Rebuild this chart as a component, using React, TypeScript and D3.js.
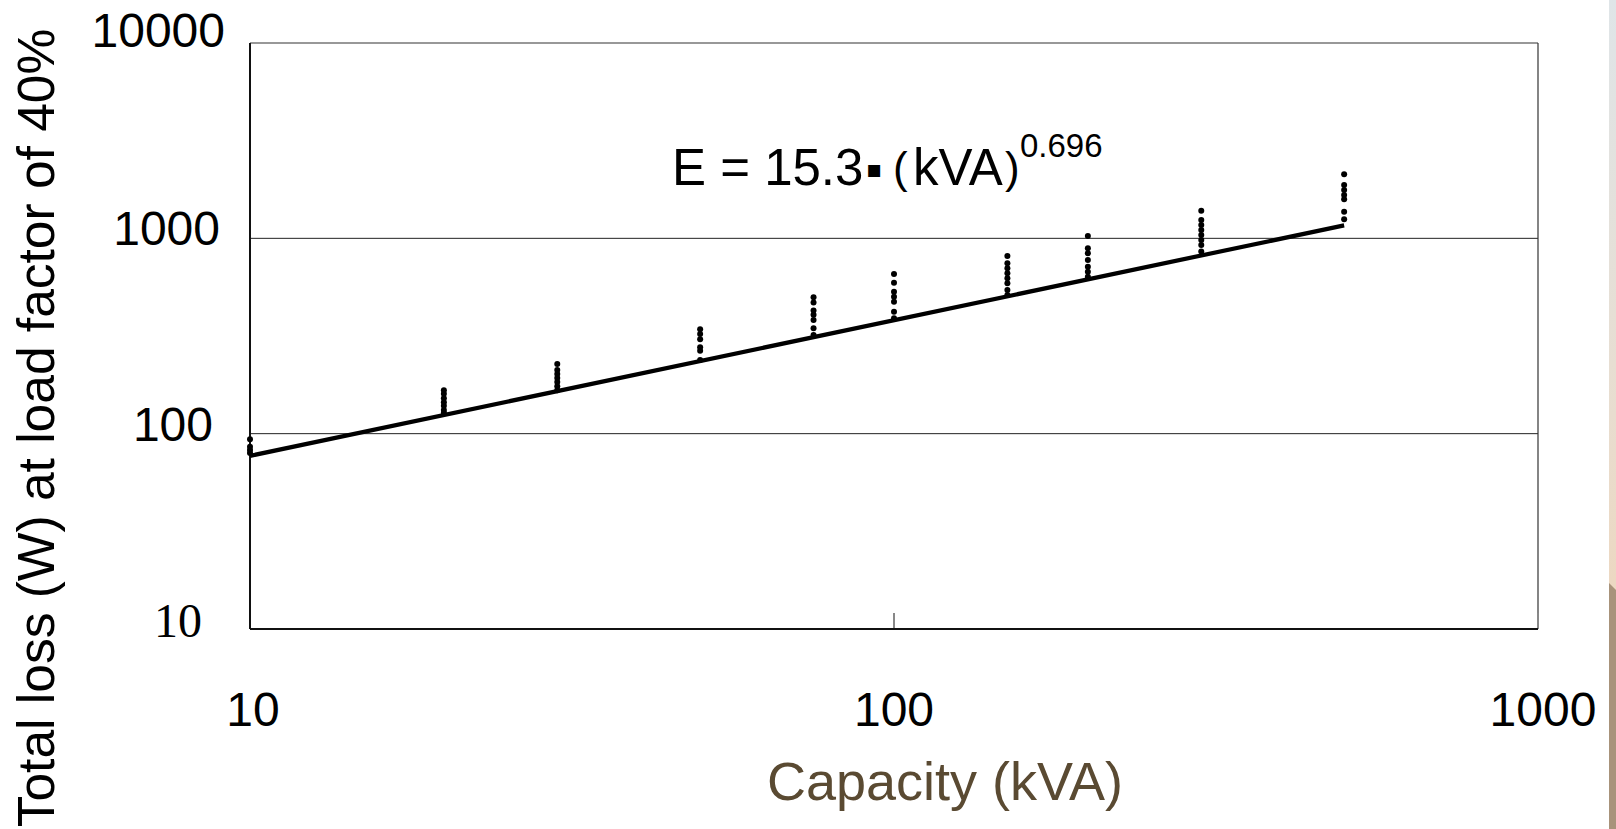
import React from 'react';
import * as d3 from 'd3';

// Capacity classes (kVA) and the measured losses (W) at each one
const capacities = [10, 20, 30, 50, 75, 100, 150, 200, 300, 500];
const measuredLoss = [
  [93.5, 85.7, 82.5, 79.6],
  [167, 160, 152, 145, 139, 132, 128],
  [227, 212, 202, 193, 184, 175, 167],
  [342, 324, 304, 277, 266, 238],
  [499, 469, 427, 406, 382, 346, 320],
  [656, 593, 533, 503, 474, 421, 390],
  [813, 745, 703, 663, 624, 589, 544, 513],
  [1028, 889, 838, 774, 716, 675, 636],
  [1385, 1242, 1171, 1103, 1040, 980, 924, 855],
  [2128, 1876, 1768, 1667, 1585, 1368, 1252],
];

// Regression line as drawn (end points)
const fitKva = [10, 500];
const fitLoss = [77, 1165];

const xTicks = [10, 100, 1000];
const yTicks = [10, 100, 1000, 10000];

const W = 1616;
const H = 829;
const plot = { left: 250, right: 1538, top: 43, bottom: 629 };

const sans = '"Liberation Sans", Arial, sans-serif';
const serif = '"Liberation Serif", "Times New Roman", serif';

const App = () => {
  const x = d3.scaleLog().domain([10, 1000]).range([plot.left, plot.right]);
  const y = d3.scaleLog().domain([10, 10000]).range([plot.bottom, plot.top]);

  const line = d3
    .line<number>()
    .x((_, i) => x(fitKva[i]))
    .y((d) => y(d));

  const points = capacities.flatMap((c, i) => measuredLoss[i].map((v) => ({ c, v })));

  // y tick labels in the source are not aligned perfectly; keep their right edges
  const yLabelRight: Record<number, number> = { 10: 202, 100: 213, 1000: 220, 10000: 225 };

  return (
    <div style={{ position: 'absolute', left: 0, top: 0 }}>
      <svg width={W} height={H} style={{ display: 'block', background: '#fff' }}>
        <defs>
          <linearGradient id="strip" x1="0" y1="0" x2="0" y2="1">
            <stop offset="0" stopColor="#dfe5e8" />
            <stop offset="0.5" stopColor="#e8ddcf" />
            <stop offset="0.7" stopColor="#ecd8c2" />
          </linearGradient>
        </defs>

        {/* slide edge decoration */}
        <rect x={1609} y={0} width={7} height={H} fill="url(#strip)" />
        <polygon points={`1609,583 1616,590 1616,${H} 1609,${H}`} fill="#a8937b" />

        {/* gridlines */}
        {[100, 1000].map((v) => (
          <line key={v} x1={plot.left} x2={plot.right} y1={y(v)} y2={y(v)} stroke="#222" strokeWidth={1} />
        ))}

        {/* frame */}
        <line x1={plot.left} x2={plot.right} y1={plot.top} y2={plot.top} stroke="#333" strokeWidth={1.2} />
        <line x1={plot.right} x2={plot.right} y1={plot.top} y2={plot.bottom} stroke="#333" strokeWidth={1.2} />

        {/* x ticks (inward) */}
        {xTicks.map((t) => (
          <line key={t} x1={x(t)} x2={x(t)} y1={plot.bottom} y2={plot.bottom - 16} stroke="#888" strokeWidth={2} />
        ))}

        <line x1={plot.left} x2={plot.right} y1={plot.bottom} y2={plot.bottom} stroke="#111" strokeWidth={2} />
        <line x1={plot.left} x2={plot.left} y1={plot.top} y2={plot.bottom} stroke="#111" strokeWidth={2} />

        {/* fitted curve */}
        <path d={line(fitLoss) || ''} fill="none" stroke="#000" strokeWidth={4.2} />

        {/* measured points */}
        {points.map((p, i) => (
          <circle key={i} cx={x(p.c)} cy={y(p.v)} r={3} fill="#000" />
        ))}

        {/* y tick labels */}
        {yTicks.map((t) => (
          <text
            key={t}
            x={yLabelRight[t]}
            y={y(t) + (t === 10 ? 8 : t === 10000 ? 4 : 7)}
            textAnchor="end"
            fontFamily={t === 10 ? serif : sans}
            fontSize={48}
            fill="#000"
          >
            {t}
          </text>
        ))}

        {/* x tick labels */}
        {xTicks.map((t) => (
          <text key={t} x={x(t) + (t === 10 ? 3 : t === 1000 ? 5 : 0)} y={726} textAnchor="middle" fontFamily={sans} fontSize={48} fill="#000">
            {t}
          </text>
        ))}

        {/* formula */}
        <text fontFamily={sans} fontSize={51} fill="#000">
          <tspan x={672} y={185}>E = 15.3</tspan>
          <tspan x={866} y={177} fontFamily='"DejaVu Sans", sans-serif' fontSize={24}>▪</tspan>
          <tspan x={893} y={183} fontSize={44}>(</tspan>
          <tspan x={913} y={185}>kVA</tspan>
          <tspan x={1005} y={183} fontSize={44}>)</tspan>
          <tspan x={1020} y={157} fontSize={33}>0.696</tspan>
        </text>

        {/* axis titles */}
        <text
          transform="translate(54,428) rotate(-90)"
          textAnchor="middle"
          fontFamily={sans}
          fontSize={51.5}
          fill="#000"
        >
          Total loss (W) at load factor of 40%
        </text>
        <text x={945} y={800} textAnchor="middle" fontFamily={sans} fontSize={54} fill="#5a4a32">
          Capacity (kVA)
        </text>
      </svg>
    </div>
  );
};

export default App;
